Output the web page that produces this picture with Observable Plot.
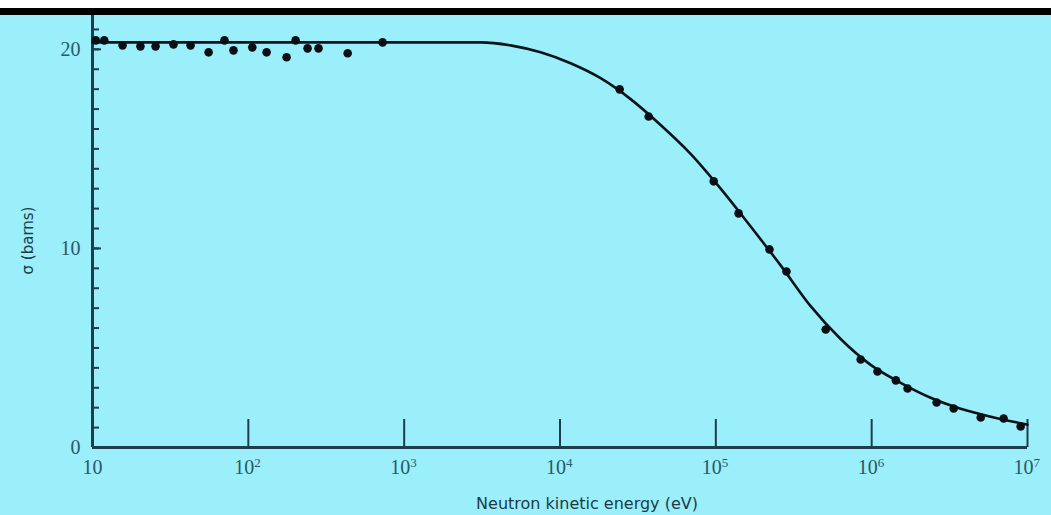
<!DOCTYPE html>
<html>
<head>
<meta charset="utf-8">
<script src="https://cdn.jsdelivr.net/npm/d3@7"></script>
<script src="https://cdn.jsdelivr.net/npm/@observablehq/plot@0.6"></script>
<style>
  html, body { margin: 0; padding: 0; background: #ffffff; }
  #top-white { height: 8px; background: #ffffff; }
  #top-black { height: 7px; background: #000000; }
  #chart svg { display: block; }
</style>
</head>
<body>
<div id="top-white"></div>
<div id="top-black"></div>
<div id="chart"></div>
<script>
// Measured cross-section data points (energy in eV, sigma in barns)
const pointEnergy = [10.5, 11.9, 15.6, 20.3, 25.4, 33.1, 42.6, 55.6, 70.3, 80.3, 106, 131, 176, 201, 240, 282, 434, 727,
  24150, 37060, 96900, 140000, 221000, 284000, 507000, 850000, 1.09e6, 1.43e6, 1.70e6, 2.61e6, 3.36e6, 5.01e6, 7.03e6, 9.04e6];
const pointSigma = [20.45, 20.45, 20.2, 20.15, 20.15, 20.25, 20.2, 19.85, 20.45, 19.95, 20.1, 19.85, 19.6, 20.45, 20.05, 20.05, 19.8, 20.35,
  17.99, 16.63, 13.37, 11.76, 9.95, 8.84, 5.93, 4.42, 3.82, 3.37, 2.96, 2.26, 1.96, 1.51, 1.46, 1.06];

// Fitted curve
const curveEnergy = [10, 3093, 4818, 7510, 11700, 18220, 28390, 44230, 68900, 107400, 167300, 260600, 406000, 632400, 985400, 1.535e6, 2.392e6, 3.726e6, 5.804e6, 1e7];
const curveSigma  = [20.35, 20.35, 20.2, 19.85, 19.3, 18.55, 17.5, 16.2, 14.75, 13.0, 11.1, 9.15, 7.1, 5.45, 4.15, 3.25, 2.5, 1.95, 1.55, 1.15];

// Axis ticks and labels
const xTicks = [10, 1e2, 1e3, 1e4, 1e5, 1e6, 1e7];
const xTickBase = ["10", "10", "10", "10", "10", "10", "10"];
const xTickExponent = ["", "2", "3", "4", "5", "6", "7"];
const yMinorTicks = d3.range(0, 22, 1);
const yMajorTicks = [0, 10, 20];
const xLabel = "Neutron kinetic energy (eV)";
const yLabel = "σ (barns)";

const points = pointEnergy.map((e, i) => ({energy: e, sigma: pointSigma[i]}));
const curve = curveEnergy.map((e, i) => ({energy: e, sigma: curveSigma[i]}));
const xLabels = xTicks.map((t, i) => ({tick: t, base: xTickBase[i], exp: xTickExponent[i], first: i === 0}));

const axisColor = "#1c3d4c";
const textColor = "#2a5866";

const chart = Plot.plot({
  width: 1051,
  height: 500,
  marginLeft: 92,
  marginRight: 24,
  marginTop: 0,
  marginBottom: 68,
  style: {background: "#9beffb", color: textColor},
  x: {type: "log", domain: [10, 1e7]},
  y: {domain: [0, 21.7]},
  marks: [
    Plot.axisX(xTicks, {tickSize: -28, tickFormat: () => "", stroke: axisColor, strokeWidth: 2, label: null}),
    Plot.text(xLabels.filter(d => d.first), {x: "tick", text: "base", frameAnchor: "bottom", dy: 26,
      fontSize: 20, fontFamily: "Liberation Serif", fill: textColor}),
    Plot.text(xLabels.filter(d => !d.first), {x: "tick", text: "base", frameAnchor: "bottom", dy: 26, dx: -4,
      fontSize: 20, fontFamily: "Liberation Serif", fill: textColor}),
    Plot.text(xLabels.filter(d => !d.first), {x: "tick", text: "exp", frameAnchor: "bottom", dy: 19, dx: 6, textAnchor: "start",
      fontSize: 13, fontFamily: "Liberation Serif", fill: textColor}),
    Plot.axisY(yMinorTicks, {tickSize: -7, tickFormat: () => "", stroke: axisColor, strokeWidth: 2, label: null}),
    Plot.axisY(yMajorTicks, {tickSize: -9, tickFormat: () => "", stroke: axisColor, strokeWidth: 2, label: null}),
    Plot.axisY(yMajorTicks, {tickSize: 0, tickPadding: 12, fontSize: 20, fontFamily: "Liberation Serif", fill: textColor, label: null}),
    Plot.ruleX([10], {stroke: axisColor, strokeWidth: 3}),
    Plot.ruleY([0], {stroke: axisColor, strokeWidth: 3}),
    Plot.line(curve, {x: "energy", y: "sigma", curve: "monotone-x", stroke: "#0a1418", strokeWidth: 2.6}),
    Plot.dot(points, {x: "energy", y: "sigma", r: 4.3, fill: "#0b0f14", stroke: "none"}),
    Plot.text([xLabel], {frameAnchor: "bottom", dy: 61, dx: 27, fontSize: 16, fontFamily: "DejaVu Sans", fill: "#1e3a46"}),
    Plot.text([yLabel], {frameAnchor: "left", textAnchor: "middle", dx: -64, dy: 9, rotate: -90, fontSize: 15, fontFamily: "DejaVu Sans", fill: "#1e3a46"})
  ]
});
document.getElementById("chart").appendChild(chart);
</script>
</body>
</html>
